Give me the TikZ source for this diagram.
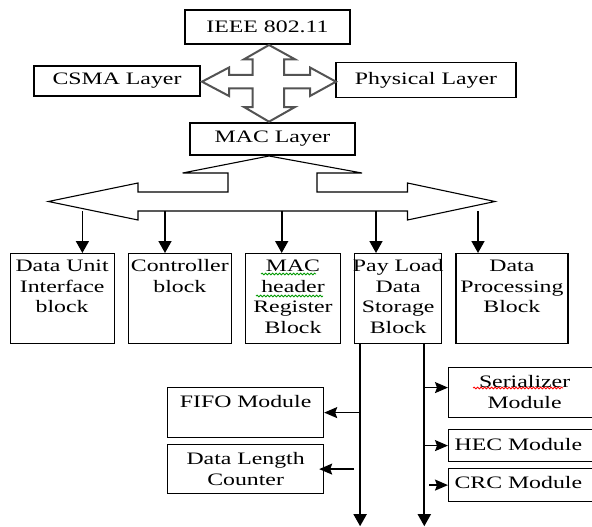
\documentclass[tikz,border=0pt]{standalone}
\usepackage{fontspec}
\setmainfont{Liberation Serif}[FakeStretch=1.36]
\usepackage{tikz}
\usetikzlibrary{positioning,arrows.meta,decorations.pathmorphing}

\begin{document}
\begin{tikzpicture}[
    x=1pt, y=-1pt,
    node distance=13pt,
    font=\fontsize{17.5}{20.5}\selectfont,
    layer/.style={rectangle, draw, line width=1.2pt, inner sep=0pt, align=center},
    block/.style={rectangle, draw, line width=1.2pt, inner xsep=0pt, inner ysep=0pt, align=center, text height=18pt, text depth=72pt},
    module/.style={rectangle, draw, line width=1.2pt, anchor=north west, inner xsep=6pt, inner ysep=0pt, text height=20pt},
    arrow/.style={-{Triangle[length=12pt,width=13pt]}, line width=1.7pt},
    sidearrow/.style={-{Stealth[length=13pt,width=11pt,inset=2pt]}, line width=1.4pt},
    crossarrow/.style={draw=gray!65!black, line width=2pt, line join=miter},
    busarrow/.style={draw, line width=1.1pt, line join=miter},
    squiggle/.style={decorate, decoration={snake, amplitude=0.9pt, segment length=3.5pt}, line width=0.8pt}
]
    \useasboundingbox (0,0) rectangle (592,527);

    % protocol layers
    \node (ieee) [layer, minimum width=165pt, minimum height=34pt] at (267.5,27) {IEEE 802.11};
    \node (csma) [layer, minimum width=166pt, minimum height=30pt] at (117,81) {CSMA Layer};
    \node (phys) [layer, minimum width=180pt, minimum height=35pt] at (426,80) {Physical Layer};
    \node (mac) [layer, minimum width=165pt, minimum height=32pt] at (272.5,139) {MAC Layer};

    % four-way arrow between the layers
    \draw [crossarrow] (269,45) -- (295,59.3) -- (284,59.3) -- (284,75) -- (310,75) -- (310,67.5)
        -- (336,81.7) -- (310,96) -- (310,88.3) -- (284,88.3) -- (284,107) -- (295,107)
        -- (269,121.7) -- (244,107) -- (252.5,107) -- (252.5,88.3) -- (229,88.3) -- (229,96)
        -- (202,81.7) -- (229,67.5) -- (229,75) -- (252.5,75) -- (252.5,59.3) -- (244,59.3) -- cycle;

    % bus arrow below the MAC layer
    \draw [busarrow] (269,156) -- (362,173) -- (317,173) -- (317,192) -- (407.5,192) -- (407.5,183)
        -- (495,201.5) -- (407.5,220) -- (407.5,211) -- (138,211) -- (138,220) -- (48.4,201.5)
        -- (138,183) -- (138,192) -- (228,192) -- (228,173) -- (182.6,173) -- cycle;

    % MAC blocks
    \node (unit) [block, text width=104pt, anchor=north west] at (9.5,253) {Data Unit\\Interface\\block};
    \node (ctrl) [block, text width=103pt, right=of unit] {Controller\\block};
    \node (header) [block, text width=95pt, right=of ctrl] {MAC\\header\\Register\\Block};
    \node (payload) [block, text width=87pt, right=of header] {\makebox[0pt]{Pay Load}\\Data\\Storage\\Block};
    \node (proc) [block, text width=112pt, right=of payload] {Data\\Processing\\Block};

    \foreach \tx/\blk in {82.4/unit, 165/ctrl, 281.7/header, 376/payload, 478/proc} {
        \coordinate (tap) at (\tx,211);
        \draw [arrow] (tap) -- (tap |- \blk.north);
    }

    % payload storage modules
    \coordinate (lineL) at ([xshift=6pt]payload.south west);
    \coordinate (lineR) at ([xshift=-18pt]payload.south east);
    \coordinate (endL) at ([yshift=-182pt]lineL);
    \coordinate (endR) at ([yshift=-182pt]lineR);
    \draw [arrow] (lineL) -- (endL);
    \draw [arrow] (lineR) -- (endR);

    \node (fifo) [module, text width=144pt, text depth=30pt, align=center] at (167,387) {FIFO Module};
    \node (dlc) [module, text width=144pt, text depth=29pt, align=center] at (167,444) {Data Length\\Counter};
    \node (ser) [module, text width=140pt, text depth=30pt, align=center] at (448,367) {Serializer\\Module};
    \node (hec) [module, text width=140pt, text height=21pt, text depth=11pt, align=left] at (448,429) {HEC Module};
    \node (crc) [module, text width=140pt, text depth=13pt, align=left] at (448,468) {CRC Module};

    \path (lineL |- dlc.east) ++(-6,0) coordinate (dlcTap);
    \path (lineR |- ser.west) ++(0,-5) coordinate (serTap);
    \path (lineR |- crc.west) ++(5,0) coordinate (crcTap);
    \draw [sidearrow] (fifo.east -| lineL) -- (fifo.east);
    \draw [sidearrow] (dlcTap) -- ([xshift=-5pt]dlc.east);
    \draw [sidearrow] (serTap) -- (serTap -| ser.west);
    \draw [sidearrow] (lineR |- hec.west) -- (hec.west);
    \draw [sidearrow] (crcTap) -- (crc.west);

    % spelling marks
    \draw [squiggle, green!60!black] (261,274) -- (316,274);
    \draw [squiggle, green!60!black] (256,296) -- (323,296);
    \draw [squiggle, red] (473,388) -- (563,388);
\end{tikzpicture}
\end{document}
